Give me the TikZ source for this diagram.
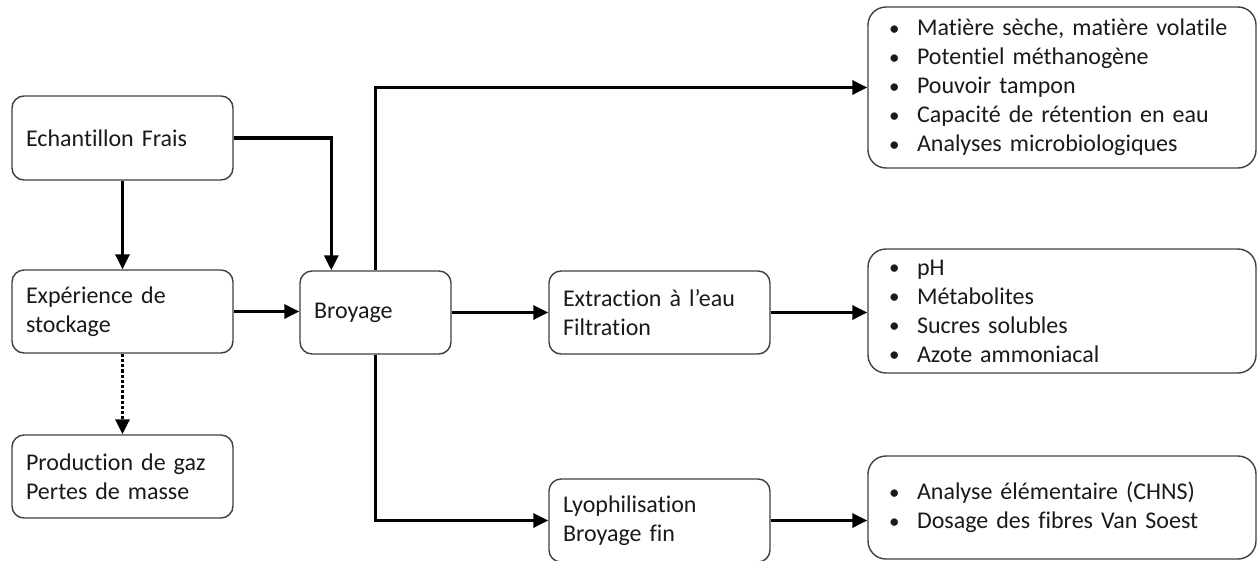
\documentclass[tikz,border=0pt]{standalone}
\usepackage{fontspec}
\setmainfont{Carlito}[Ligatures={NoCommon}]
\usetikzlibrary{arrows.meta,calc}
\definecolor{boxline}{HTML}{404040}
\definecolor{txt}{HTML}{1A1A1A}
\newcommand{\bul}[1]{\makebox[28pt][l]{\raisebox{0.5pt}{\fontsize{21}{21}\selectfont•}}#1}
\tikzset{
  box/.style={draw=boxline, line width=1.4pt, rounded corners=12pt, fill=white,
    text=txt, align=left, inner xsep=14pt, inner ysep=0pt,
    font=\fontsize{24}{29}\selectfont},
  bigbox/.style={box, rounded corners=18pt, inner xsep=21pt},
  conn/.style={line width=3.2pt, -{Triangle[length=15pt,width=14pt]}},
  dotconn/.style={line width=3.2pt, dotted, -{Triangle[length=15pt,width=14pt]}}
}
\begin{document}
\begin{tikzpicture}[x=1pt,y=-1pt]
\useasboundingbox (0,0) rectangle (1258,560);
% left column
\node[box, minimum width=221pt, minimum height=84pt, text width=193pt] (ech) at (122.5,138) {Echantillon Frais};
\node[box, minimum width=221pt, minimum height=83pt, text width=193pt] (exp) at (122.5,311.5) {Expérience de\\stockage};
\node[box, minimum width=221pt, minimum height=83pt, text width=193pt] (prod) at (122.5,476.5) {Production de gaz\\Pertes de masse};
% middle
\node[box, minimum width=151pt, minimum height=83pt, text width=123pt] (broy) at (375.5,312.5) {Broyage};
\node[box, minimum width=221pt, minimum height=83pt, text width=193pt] (extr) at (659.5,312.5) {Extraction à l’eau\\Filtration};
\node[box, minimum width=221pt, minimum height=83pt, text width=193pt] (lyo) at (659.5,520.5) {Lyophilisation\\Broyage fin};
% right column
\node[bigbox, minimum width=388pt, minimum height=161pt, text width=346pt] (top) at (1062,87.5)
  {\bul{Matière sèche, matière volatile}\\\bul{Potentiel méthanogène}\\\bul{Pouvoir tampon}\\\bul{Capacité de rétention en eau}\\\bul{Analyses microbiologiques}};
\node[bigbox, minimum width=388pt, minimum height=124pt, text width=346pt] (mid) at (1062,311)
  {\bul{pH}\\\bul{Métabolites}\\\bul{Sucres solubles}\\\bul{Azote ammoniacal}};
\node[bigbox, minimum width=388pt, minimum height=103pt, text width=346pt] (bot) at (1062,507.5)
  {\bul{Analyse élémentaire (CHNS)}\\\bul{Dosage des fibres Van Soest}};
% connectors
\coordinate (broyin) at ($(broy.north west)+(32,0)$);
\draw[conn] (ech.south) -- (exp.north);
\draw[conn] (ech.east) -| (broyin);
\draw[dotconn] (exp.south) -- (prod.north);
\draw[conn] (exp.east) -- (exp.east -| broy.west);
\draw[conn] (broy.north) |- (top.west);
\draw[conn] (broy.east) -- (broy.east -| extr.west);
\draw[conn] (broy.south) |- (lyo.west);
\draw[conn] (extr.east) -- (extr.east -| mid.west);
\draw[conn] (lyo.east) -- (lyo.east -| bot.west);
\end{tikzpicture}
\end{document}
